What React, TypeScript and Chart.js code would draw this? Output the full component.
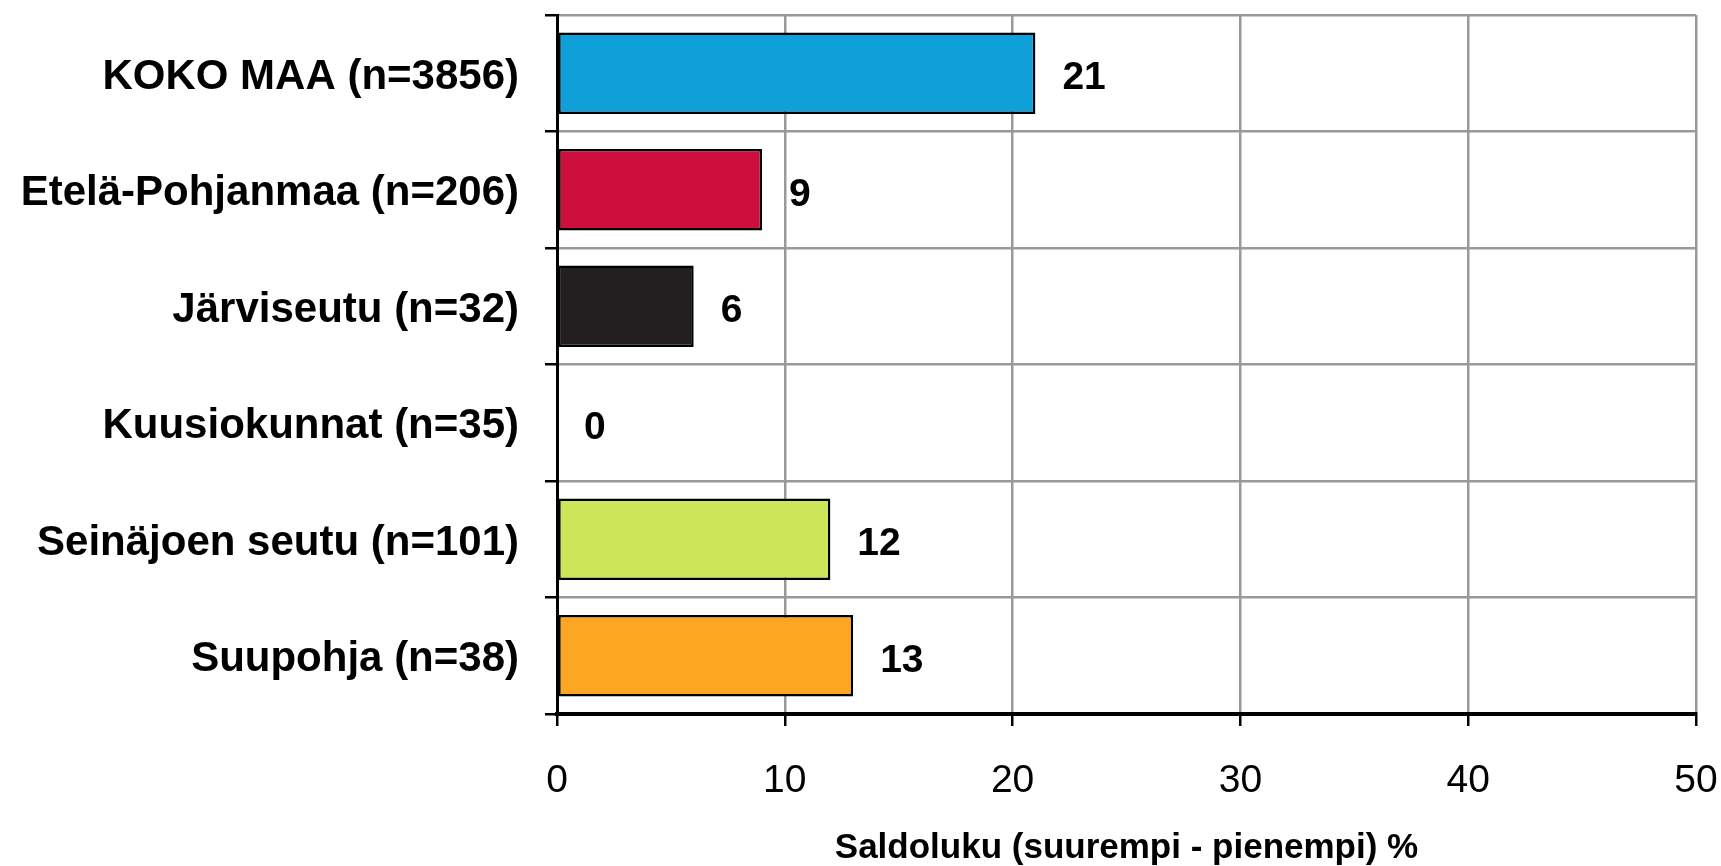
import React, { useEffect, useRef } from "react";
import { Chart, registerables } from "chart.js";

Chart.register(...registerables);

const categories = [
  "KOKO MAA (n=3856)",
  "Etelä-Pohjanmaa (n=206)",
  "Järviseutu (n=32)",
  "Kuusiokunnat (n=35)",
  "Seinäjoen seutu (n=101)",
  "Suupohja (n=38)",
];
const values = [21, 9, 6, 0, 12, 13];
const barColors = ["#0FA0DA", "#CE0F3E", "#231F20", "#FFFFFF", "#CCE65A", "#FCA621"];
const xTicks = [0, 10, 20, 30, 40, 50];
const xTitle = "Saldoluku (suurempi - pienempi) %";

const FONT = "'Liberation Sans', Arial, sans-serif";

const valueLabels = {
  id: "valueLabels",
  afterDatasetsDraw(chart: any) {
    const ctx = chart.ctx;
    const meta = chart.getDatasetMeta(0);
    ctx.save();
    ctx.font = `bold 39px ${FONT}`;
    ctx.fillStyle = "#000";
    ctx.textAlign = "left";
    ctx.textBaseline = "middle";
    meta.data.forEach((el: any, i: number) => {
      ctx.fillText(String(values[i]), el.x + 27, el.y + 5);
    });
    ctx.restore();
  },
};

function zeroPad(s: any) {
  s.paddingTop = 0;
  s.paddingBottom = 0;
  s.paddingLeft = 0;
  s.paddingRight = 0;
}

export default function App() {
  const ref = useRef<HTMLCanvasElement | null>(null);
  useEffect(() => {
    document.body.style.margin = "0";
    const chart = new Chart(ref.current!, {
      type: "bar",
      data: {
        labels: categories,
        datasets: [
          {
            data: values,
            backgroundColor: barColors,
            borderColor: "#000",
            borderWidth: (c: any) => (values[c.dataIndex] === 0 ? 0 : 2.5),
            borderSkipped: false,
            barPercentage: 0.7,
            categoryPercentage: 1,
          },
        ],
      },
      options: {
        indexAxis: "y",
        animation: false,
        responsive: false,
        maintainAspectRatio: false,
        layout: { padding: { left: 0, right: 25, top: 15, bottom: 0 } },
        plugins: { legend: { display: false }, tooltip: { enabled: false } },
        scales: {
          x: {
            min: 0,
            max: 50,
            afterBuildTicks: (s: any) => {
              s.ticks = xTicks.map((v) => ({ value: v }));
            },
            afterFit: (s: any) => {
              s.height = 152;
              zeroPad(s);
            },
            grid: { color: "#999999", lineWidth: 2.5, tickColor: "#000", tickLength: 12, drawTicks: true },
            border: { color: "#000", width: 4 },
            ticks: { color: "#000", font: { family: FONT, size: 39 }, padding: 32, maxRotation: 0 },
            title: {
              display: true,
              text: xTitle,
              color: "#000",
              font: { family: FONT, size: 35, weight: "bold", lineHeight: 1.0 },
              padding: { top: 0, bottom: 0 },
            },
          },
          y: {
            afterFit: (s: any) => {
              s.width = 557;
              zeroPad(s);
            },
            grid: { color: "#999999", lineWidth: 2.5, tickColor: "#000", tickLength: 12, offset: true },
            border: { color: "#000", width: 3 },
            ticks: { color: "#000", font: { family: FONT, size: 42, weight: "bold" }, padding: 26, labelOffset: 4 },
          },
        },
      },
      plugins: [valueLabels],
    } as any);
    return () => chart.destroy();
  }, []);
  return (
    <div style={{ width: 1721, height: 866 }}>
      <canvas ref={ref} width={1721} height={866} style={{ display: "block" }} />
    </div>
  );
}
